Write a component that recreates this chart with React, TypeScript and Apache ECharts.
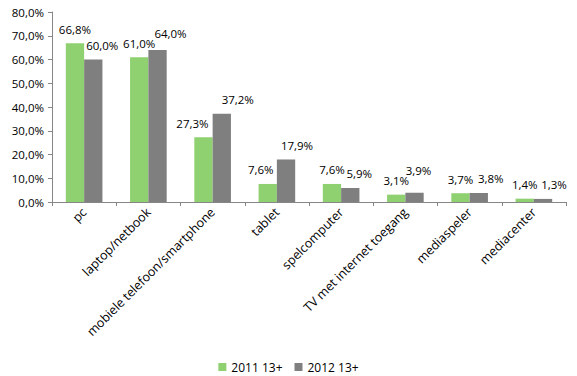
import React, { useEffect, useRef } from "react";
import * as echarts from "echarts";

const categories = [
  "pc",
  "laptop/netbook",
  "mobiele telefoon/smartphone",
  "tablet",
  "spelcomputer",
  "TV met internet toegang",
  "mediaspeler",
  "mediacenter",
];
const values2011 = [66.8, 61.0, 27.3, 7.6, 7.6, 3.1, 3.7, 1.4];
const values2012 = [60.0, 64.0, 37.2, 17.9, 5.9, 3.9, 3.8, 1.3];
const seriesNames = ["2011 13+", "2012 13+"];
const yTicks = { min: 0, max: 80, interval: 10 };

// label nudges (styling only), [dx, dy] in px
const labelNudge2011: number[][] = [[0, 0], [0, 0], [-11, 0], [-7, 0], [0, 0], [0, 0], [0, 0], [0, 0]];
const labelNudge2012: number[][] = [[9, 0], [13, -3], [16, 0], [11, 0], [9, 0], [4, -8], [12, 0], [11, 0]];

const FONT = "'Open Sans', 'DejaVu Sans', sans-serif";
const fmt = (v: number) => v.toFixed(1).replace(".", ",") + "%";

export default function App() {
  const ref = useRef<HTMLDivElement>(null);
  useEffect(() => {
    document.body.style.margin = "0";
    if (!ref.current) return;
    const chart = echarts.init(ref.current, undefined, { renderer: "svg" });
    const mk = (vals: number[], nudges: number[][]) =>
      vals.map((v, i) => ({ value: v, label: { offset: nudges[i] } }));
    const labelCfg = {
      show: true,
      position: "top",
      distance: 8,
      formatter: (p: any) => fmt(p.value),
      fontFamily: FONT,
      fontSize: 11.5,
      color: "#000",
    };
    chart.setOption({
      animation: false,
      textStyle: { fontFamily: FONT },
      grid: { left: 52, right: 11, top: 12, bottom: 174, containLabel: false },
      legend: {
        top: 356,
        left: "center",
        itemWidth: 8,
        itemHeight: 8,
        itemGap: 12,
        icon: "rect",
        textStyle: { fontFamily: FONT, fontSize: 12, color: "#000" },
        data: seriesNames,
      },
      xAxis: {
        type: "category",
        data: categories,
        axisLine: { lineStyle: { color: "#868686", width: 1 } },
        axisTick: { show: true, alignWithLabel: false, length: 4, lineStyle: { color: "#868686" } },
        axisLabel: {
          rotate: 45,
          interval: 0,
          fontFamily: FONT,
          fontSize: 12.5,
          color: "#000",
          margin: 8,
        },
      },
      yAxis: {
        type: "value",
        min: yTicks.min,
        max: yTicks.max,
        interval: yTicks.interval,
        splitLine: { show: false },
        axisLine: { show: true, lineStyle: { color: "#868686", width: 1 } },
        axisTick: { show: true, length: 4, lineStyle: { color: "#868686" } },
        axisLabel: {
          formatter: (v: number) => fmt(v),
          fontFamily: FONT,
          fontSize: 11.5,
          color: "#000",
          margin: 8,
        },
      },
      series: [
        {
          name: seriesNames[0],
          type: "bar",
          data: mk(values2011, labelNudge2011),
          itemStyle: { color: "#8fd071" },
          barGap: "0%",
          barCategoryGap: "43%",
          label: labelCfg,
        },
        {
          name: seriesNames[1],
          type: "bar",
          data: mk(values2012, labelNudge2012),
          itemStyle: { color: "#7f7f7f" },
          barGap: "0%",
          barCategoryGap: "43%",
          label: labelCfg,
        },
      ],
    });
    return () => chart.dispose();
  }, []);
  return <div ref={ref} style={{ width: 577, height: 376 }} />;
}
